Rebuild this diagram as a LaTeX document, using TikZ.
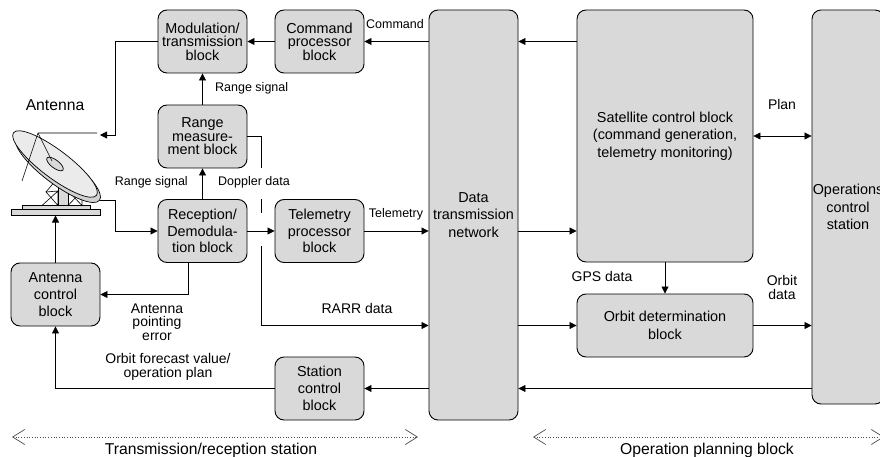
\documentclass[tikz,border=0pt]{standalone}
\usepackage{fontspec}
\setmainfont{Liberation Sans}
\usetikzlibrary{arrows.meta}

\tikzset{
  blk/.style={draw, line width=0.9pt, fill=black!15, rounded corners=9pt, align=center,
    inner sep=0pt, minimum width=89pt, minimum height=63pt, font=\fontsize{14.4}{16.7}\selectfont},
  tight/.style={font=\fontsize{14.4}{13.6}\selectfont},
  lbl/.style={font=\fontsize{14}{14}\selectfont, align=center, inner sep=0pt},
  sml/.style={font=\fontsize{12.5}{13}\selectfont, inner sep=0pt},
  conn/.style={line width=0.8pt, -{Triangle[length=7pt,width=7pt]}},
  span/.style={dotted, line width=0.7pt, black!70,
    {Straight Barb[length=12pt,width=15pt,line width=0.7pt]}-{Straight Barb[length=12pt,width=15pt,line width=0.7pt]}},
}

\begin{document}
\begin{tikzpicture}[x=1pt, y=-1pt]
		%%%%% START %%%%%
		\useasboundingbox (0,0) rectangle (880,457);
		
		% antenna
		\draw[line width=0.6pt, fill=black!15] (11,209) rectangle (100,215);
		\draw[line width=0.6pt, fill=black!15] (22,205.5) rectangle (90,209);
		\draw[line width=0.6pt, fill=black!15] (58,178) rectangle (68,205.5);
		\draw[line width=0.6pt] (42,205.5) -- (58,191) -- (58,205.5) -- (46,192) -- (58,191);
		\draw[line width=0.6pt] (46,192) -- (56,180);
		\draw[line width=0.6pt] (68,205.5) -- (82,191) -- (82,205.5) -- (68,191) -- (82,191);
		\draw[line width=0.6pt] (68,191) -- (82,176) (82,191) -- (70,177);
		\draw[line width=0.7pt, fill=black!18, rotate around={-37:(58,169)}] (58,169) ellipse [x radius=52, y radius=15];
		\draw[line width=0.7pt, fill=black!8, rotate around={-37:(55,164)}] (55,164) ellipse [x radius=52, y radius=14];
		\draw[line width=0.7pt, fill=black!15, rotate around={-37:(55,164)}] (55,164) ellipse [x radius=10, y radius=4];
		\draw[line width=0.6pt] (22,181) -- (38,133) -- (97,133) (38,133) -- (52,161);
		\node[font=\fontsize{15.7}{16}\selectfont, inner sep=0pt] (ant) at (55,105) {Antenna};
		\coordinate (antfeed) at (100,135);
		\coordinate (feedbend) at (115,135);
		\coordinate (antout) at (100,200);
		\coordinate (antin) at (55.5,215.5);
		
		% blocks
		\node[blk, tight] (mod) at (202.5,41.5) {Modulation/\\transmission\\block};
		\node[blk, tight] (cmd) at (319.5,41.5) {Command\\processor\\block};
		\node[blk, tight] (rng) at (202.5,136.5) {Range\\measure-\\ment block};
		\node[blk] (rcv) at (202.5,231) {Reception/\\Demodula-\\tion block};
		\node[blk] (tlm) at (319.5,231) {Telemetry\\processor\\block};
		\node[blk] (acb) at (55.5,294.5) {Antenna\\control\\block};
		\node[blk] (scb) at (319.5,388.5) {Station\\control\\block};
		\node[blk, minimum height=410pt, font=\fontsize{14.4}{17.3}\selectfont] (dtn) at (473.5,215) {Data\\transmission\\network};
		\node[blk, minimum width=176pt, minimum height=252pt, font=\fontsize{14.4}{17.3}\selectfont] (sat) at (665,136) {Satellite control block\\(command generation,\\telemetry monitoring)};
		\node[blk, minimum width=176pt, font=\fontsize{14.4}{17.3}\selectfont] (odb) at (665,325.5) {Orbit determination\\block};
		\node[blk, minimum width=72pt, minimum height=394pt, font=\fontsize{14.4}{17.3}\selectfont] (ocs) at (848,207) {Operations\\control\\station};
		
		% connectors, station side
		\draw[conn] (dtn.west |- cmd.east) -- (cmd.east);
		\draw[conn] (cmd.west) -- (mod.east);
		\draw[conn] (mod.west) -| (feedbend) -- (antfeed);
		\draw[conn] (rng.north) -- (mod.south);
		\draw[conn] (rcv.north) -- (rng.south);
		\draw[conn] (antout) -- ++(15,0) |- (rcv.west);
		\draw[conn] (rcv.east) -- (tlm.west);
		\draw[conn] (tlm.east) -- (dtn.west |- tlm.east);
		\draw[conn] ([xshift=-14.5pt]rcv.south) |- (acb.east);
		\draw[conn] (acb.north) -- (antin);
		\coordinate (dop1) at (261,168);
		\coordinate (dop2) at (261,199);
		\coordinate (cross1) at (261,213);
		\coordinate (cross2) at (261,246);
		\draw[line width=0.8pt] (rng.east) -| (dop1);
		\draw[line width=0.8pt] (dop2) -- (cross1);
		\draw[conn] (cross2) |- (dtn.west |- odb.west);
		\draw[conn] (dtn.west |- scb.east) -- (scb.east);
		\draw[conn] (scb.west) -| (acb.south);
		
		% connectors, planning side
		\draw[conn] (sat.west |- cmd.east) -- (dtn.east |- cmd.east);
		\draw[conn] (dtn.east |- tlm.east) -- (sat.west |- tlm.east);
		\draw[conn] (dtn.east |- odb.west) -- (odb.west);
		\draw[conn] (sat.south) -- (odb.north);
		\draw[conn, {Triangle[length=7pt,width=7pt]}-{Triangle[length=7pt,width=7pt]}] (sat.east) -- (ocs.west |- sat.east);
		\draw[conn] (odb.east) -- (ocs.west |- odb.east);
		\draw[conn] (ocs.west |- scb.east) -- (dtn.east |- scb.east);
		
		% labels
		\node[sml] (lcmd) at (395,24) {Command};
		\node[sml, anchor=west] (lrs1) at (215,88) {Range signal};
		\node[sml, anchor=east] (lrs2) at (188,182) {Range signal};
		\node[sml, anchor=west] (ldop) at (218,182) {Doppler data};
		\node[sml] (ltlm) at (396,214) {Telemetry};
		\node[lbl, font=\fontsize{14}{13.5}\selectfont] (lerr) at (157,322) {Antenna\\pointing\\error};
		\node[lbl] (lrarr) at (357,308) {RARR data};
		\node[lbl] (lfcst) at (168,367) {Orbit forecast value/\\operation plan};
		\node[lbl] (lgps) at (602,276) {GPS data};
		\node[lbl] (lplan) at (782,104) {Plan};
		\node[lbl] (lorb) at (782,287) {Orbit\\data};
		
		% extents
		\coordinate (trl) at (12,437);
		\coordinate (trr) at (418,437);
		\coordinate (opl) at (533,437);
		\coordinate (opr) at (884,437);
		\draw[span] (trl) -- (trr);
		\draw[span] (opl) -- (opr);
		\node[font=\fontsize{15.7}{16}\selectfont, inner sep=0pt] (ltr) at (211,450) {Transmission/reception station};
		\node[font=\fontsize{15.7}{16}\selectfont, inner sep=0pt] (lop) at (707,450) {Operation planning block};
		%%%%% END %%%%%
\end{tikzpicture}
\end{document}
